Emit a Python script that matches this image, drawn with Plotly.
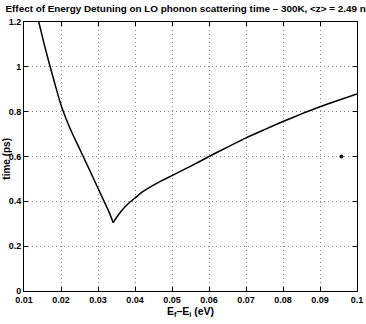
import plotly.graph_objects as go

# Left branch (decreasing) of scattering time vs detuning, ending at the cusp
left_x = [0.0132, 0.0140, 0.0155, 0.0170, 0.0185, 0.0200, 0.0215, 0.0230, 0.0250,
          0.0270, 0.0290, 0.0310, 0.0330, 0.0341]
left_y = [1.25, 1.20, 1.098, 1.005, 0.915, 0.830, 0.763, 0.705, 0.635,
          0.565, 0.494, 0.423, 0.352, 0.305]
# Right branch (increasing), starting at the cusp
right_x = [0.0341, 0.0350, 0.0362, 0.0380, 0.0400, 0.0420, 0.0443, 0.0470, 0.0500, 0.0552,
           0.060, 0.065, 0.070, 0.075, 0.080, 0.085, 0.090, 0.095, 0.100]
right_y = [0.305, 0.328, 0.355, 0.387, 0.415, 0.442, 0.466, 0.490, 0.515, 0.558,
           0.600, 0.642, 0.683, 0.720, 0.756, 0.790, 0.822, 0.851, 0.879]
# Single marked point
pt_x = [0.0958]
pt_y = [0.60]

x_ticks = [0.01, 0.02, 0.03, 0.04, 0.05, 0.06, 0.07, 0.08, 0.09, 0.1]
x_ticktext = ["0.01", "0.02", "0.03", "0.04", "0.05", "0.06", "0.07", "0.08", "0.09", "0.1"]
y_ticks = [0, 0.2, 0.4, 0.6, 0.8, 1.0, 1.2]
y_ticktext = ["0", "0.2", "0.4", "0.6", "0.8", "1", "1.2"]

title_text = "Effect of Energy Detuning on LO phonon scattering time \u2013 300K, &lt;z&gt; = 2.49 nm"
x_title = "E<sub>f</sub>\u2013E<sub>i</sub> (eV)"
y_title = "time (ps)"

FONT = "Liberation Sans, Arial, Helvetica, sans-serif"

fig = go.Figure()
for xs, ys in ((left_x, left_y), (right_x, right_y)):
    fig.add_trace(go.Scatter(x=xs, y=ys, mode="lines",
                             line=dict(color="black", width=1.5, shape="spline", smoothing=0.6),
                             showlegend=False))
fig.add_trace(go.Scatter(x=pt_x, y=pt_y, mode="markers",
                         marker=dict(color="black", size=4), showlegend=False))

axis_common = dict(
    showline=True, linecolor="black", linewidth=1, mirror="ticks",
    ticks="inside", ticklen=4, tickcolor="black", tickwidth=1,
    showgrid=True, gridcolor="#8a8a8a", griddash="1px,3px", gridwidth=1,
    zeroline=False, automargin=False,
    tickfont=dict(family=FONT, size=9, color="black", weight="bold"),
)

fig.update_layout(
    width=366, height=324,
    margin=dict(l=24, r=9, t=22, b=33, autoexpand=False),
    paper_bgcolor="white", plot_bgcolor="white",
    title=dict(text=title_text, x=0.015, xref="container", xanchor="left",
               y=0.985, yref="container", yanchor="top",
               font=dict(family=FONT, size=9.9, color="black", weight="bold")),
    xaxis=dict(range=[0.01, 0.1], tickvals=x_ticks, ticktext=x_ticktext,
               title=dict(text=x_title, standoff=0,
                          font=dict(family=FONT, size=10.5, color="black", weight="bold")),
               **axis_common),
    yaxis=dict(range=[0, 1.2], tickvals=y_ticks, ticktext=y_ticktext, **axis_common),
    annotations=[dict(text=y_title, textangle=-90, showarrow=False,
                      xref="paper", yref="paper", x=0, y=0.49,
                      xanchor="right", yanchor="middle", xshift=-10,
                      font=dict(family=FONT, size=10, color="black", weight="bold"))],
)

fig.write_html("out.html")
